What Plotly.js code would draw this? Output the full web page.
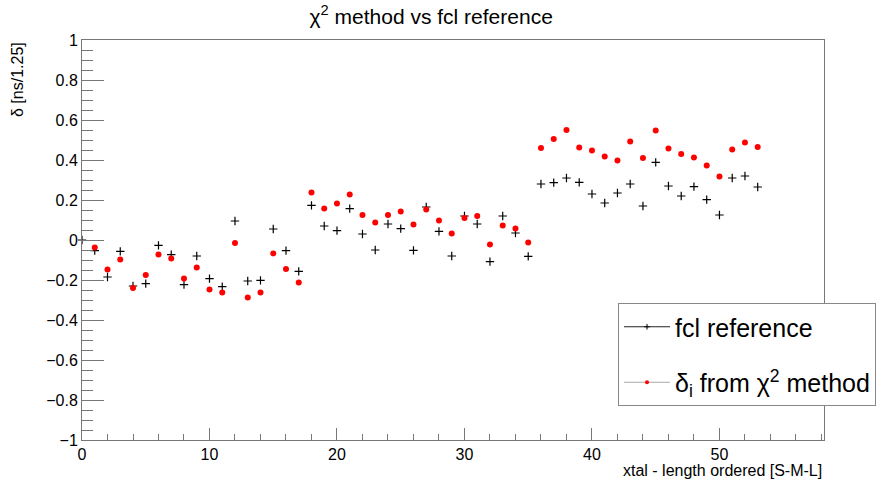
<!DOCTYPE html>
<html>
<head>
<meta charset="utf-8">
<script src="https://cdn.plot.ly/plotly-3.0.1.min.js"></script>
<style>html,body{margin:0;padding:0;background:#fff;}#chart{width:880px;height:479px;}</style>
</head>
<body>
<div id="chart"></div>
<script>
// fcl reference (black crosses)
const fclX = [0,1,2,3,4,5,6,7,8,9,10,11,12,13,14,15,16,17,18,19,20,21,22,23,24,25,26,27,28,29,30,31,32,33,34,35,36,37,38,39,40,41,42,43,44,45,46,47,48,49,50,51,52,53];
const fclY = [0,-0.053,-0.185,-0.057,-0.23,-0.218,-0.027,-0.073,-0.223,-0.08,-0.193,-0.233,0.095,-0.205,-0.202,0.055,-0.053,-0.157,0.173,0.07,0.047,0.157,0.03,-0.05,0.08,0.057,-0.052,0.165,0.043,-0.08,0.12,0.08,-0.108,0.12,0.035,-0.082,0.28,0.287,0.31,0.288,0.23,0.185,0.235,0.28,0.17,0.388,0.27,0.22,0.267,0.202,0.125,0.31,0.32,0.265];
// delta_i from chi2 method (red dots)
const chiX = [1,2,3,4,5,6,7,8,9,10,11,12,13,14,15,16,17,18,19,20,21,22,23,24,25,26,27,28,29,30,31,32,33,34,35,36,37,38,39,40,41,42,43,44,45,46,47,48,49,50,51,52,53];
const chiY = [-0.037,-0.147,-0.098,-0.24,-0.175,-0.073,-0.093,-0.192,-0.138,-0.248,-0.263,-0.015,-0.288,-0.262,-0.067,-0.145,-0.212,0.238,0.158,0.182,0.227,0.125,0.088,0.125,0.142,0.077,0.153,0.097,0.032,0.11,0.12,-0.023,0.072,0.057,-0.012,0.46,0.505,0.55,0.462,0.447,0.417,0.397,0.492,0.41,0.547,0.457,0.43,0.412,0.372,0.318,0.453,0.487,0.465];

const seriesNames = ['fcl reference', 'δ<sub>i</sub> from χ<sup>2</sup> method'];
const titleText = 'χ<sup>2</sup> method vs fcl reference';
const xTitle = 'xtal - length ordered [S-M-L]';
const yTitle = 'δ [ns/1.25]';

const FONT = 'Liberation Sans, Arial, Helvetica, sans-serif';
const axisCol = '#777';

const traces = [
  {x: fclX, y: fclY, type: 'scatter', mode: 'markers', showlegend: false, cliponaxis: false,
   marker: {symbol: 'cross-thin', size: 6, color: '#000', line: {color: '#000', width: 1.2}}},
  {x: chiX, y: chiY, type: 'scatter', mode: 'markers', showlegend: false, cliponaxis: false,
   marker: {symbol: 'circle', size: 6, color: '#ff0000', line: {width: 0}}},
  {x: [null], y: [null], type: 'scatter', mode: 'lines+markers', name: seriesNames[0], legendgroup: 'a',
   line: {color: '#222', width: 1}, marker: {symbol: 'cross-thin', size: 4, color: '#000', line: {color: '#000', width: 1}}},
  {x: [null], y: [null], type: 'scatter', mode: 'lines+markers', name: seriesNames[1], legendgroup: 'b',
   line: {color: '#aaa', width: 1}, marker: {symbol: 'circle', size: 4, color: '#ff0000'}}
];

const layout = {
  width: 880, height: 479,
  margin: {l: 82, r: 56, t: 40, b: 39, autoexpand: false},
  paper_bgcolor: '#fff', plot_bgcolor: '#fff',
  font: {family: FONT, size: 16, color: '#000'},
  title: {text: titleText, font: {family: FONT, size: 21, color: '#000'}, x: 0.49, xref: 'container', xanchor: 'center', y: 0.965, yref: 'container', yanchor: 'middle'},
  xaxis: {
    range: [0, 58.2], showgrid: false, zeroline: false,
    showline: true, linecolor: axisCol, linewidth: 1, mirror: true,
    ticks: 'inside', ticklen: 12, tickcolor: axisCol, tickwidth: 1,
    tickmode: 'linear', tick0: 0, dtick: 10,
    minor: {ticks: 'inside', ticklen: 6, dtick: 2, tickcolor: axisCol, tickwidth: 1, showgrid: false},
    tickfont: {family: FONT, size: 16, color: '#000'}
  },
  yaxis: {
    range: [-1, 1], showgrid: false, zeroline: false,
    showline: true, linecolor: axisCol, linewidth: 1, mirror: true,
    ticks: 'inside', ticklen: 22, tickcolor: axisCol, tickwidth: 1,
    tickmode: 'linear', tick0: -1, dtick: 0.2,
    minor: {ticks: 'inside', ticklen: 11, dtick: 0.05, tickcolor: axisCol, tickwidth: 1, showgrid: false},
    tickfont: {family: FONT, size: 16, color: '#000'}
  },
  legend: {
    x: 0.7224, y: 0.3425, xanchor: 'left', yanchor: 'top',
    bgcolor: '#fff', bordercolor: '#888', borderwidth: 1,
    font: {family: FONT, size: 25, color: '#000'},
    traceorder: 'grouped', tracegroupgap: 20, itemwidth: 46
  },
  annotations: [
    {text: xTitle, xref: 'paper', yref: 'paper', x: 1, y: 0, xanchor: 'right', yanchor: 'top', yshift: -20, showarrow: false,
     font: {family: FONT, size: 16, color: '#000'}},
    {text: yTitle, xref: 'paper', yref: 'paper', x: 0, y: 1, xanchor: 'right', yanchor: 'top', xshift: -54, textangle: -90, showarrow: false,
     font: {family: FONT, size: 16, color: '#000'}}
  ]
};

Plotly.newPlot('chart', traces, layout, {displayModeBar: false, staticPlot: true});
</script>
</body>
</html>
